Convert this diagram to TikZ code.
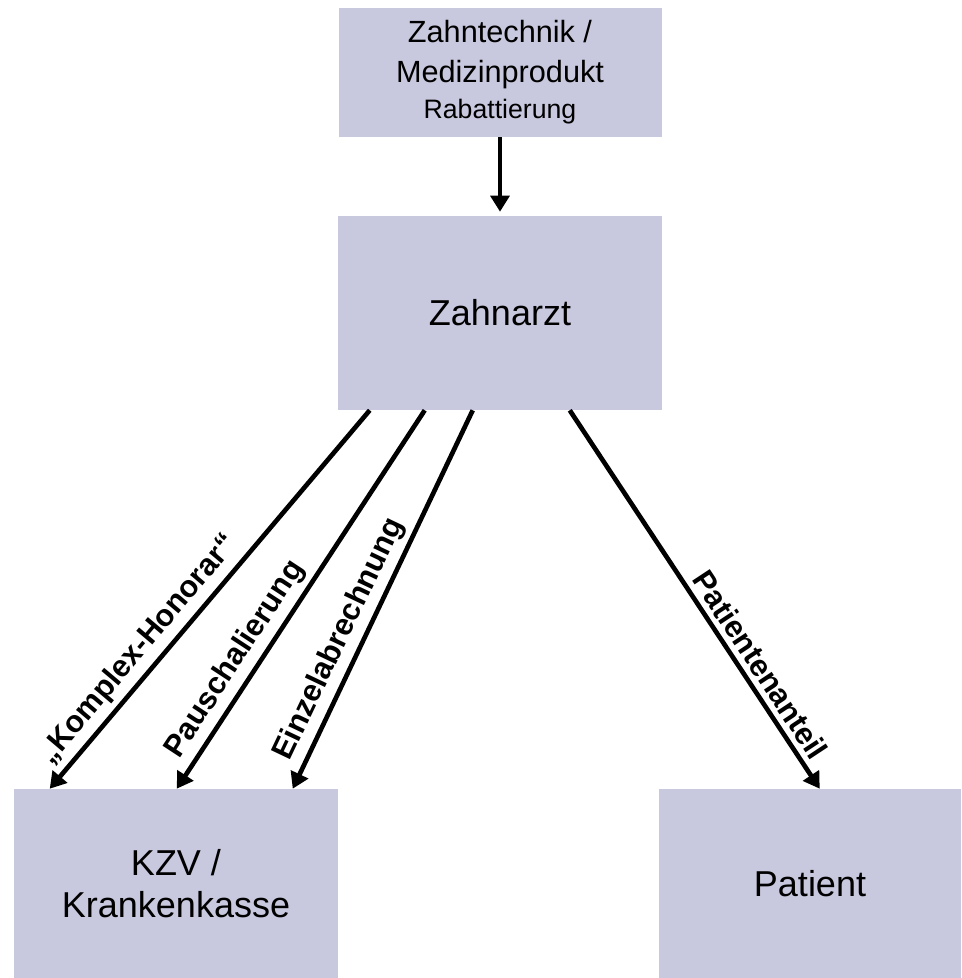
\documentclass[tikz,border=0pt]{standalone}
\usepackage{fontspec}
\setmainfont{Liberation Sans}
\usetikzlibrary{arrows.meta}
\definecolor{boxfill}{RGB}{200,200,222}

\begin{document}
\begin{tikzpicture}[x=0.75pt,y=-0.75pt]
	\tikzstyle{box}=[fill=boxfill,inner sep=0pt,align=center,font=\fontsize{27}{32}\selectfont]
	\tikzstyle{flow}=[line width=3.5pt,-{Triangle[length=12pt,width=14pt]}]
	\tikzstyle{lbl}=[font=\fontsize{23}{27}\selectfont\bfseries,sloped,above,inner sep=4pt]

	\useasboundingbox (0,0) rectangle (961,978);

	\node (tech) at (500,72.5) [box,font=\fontsize{23}{30}\selectfont,minimum width=242.25pt,minimum height=96.75pt] {Zahntechnik /\\Medizinprodukt\\[-3pt]{\fontsize{20}{25}\selectfont Rabattierung}};
	\node (zahnarzt) at (500,313) [box,minimum width=243pt,minimum height=145.5pt] {Zahnarzt};
	\node (kzv) at (176,883.5) [box,minimum width=243pt,minimum height=141.75pt] {KZV /\\Krankenkasse};
	\node (patient) at (810,883.5) [box,minimum width=226.5pt,minimum height=141.75pt] {Patient};

	\path [flow] (tech.south) edge[shorten >=3pt] (zahnarzt.north);

	\path [flow] ([xshift=24pt]zahnarzt.south west) edge node[lbl,pos=0.67] {„Komplex-Honorar“} ([xshift=27pt]kzv.north west);
	\path [flow] ([xshift=65.25pt]zahnarzt.south west) edge node[lbl,pos=0.69] {Pauschalierung} ([xshift=122.25pt]kzv.north west);
	\path [flow] ([xshift=101.25pt]zahnarzt.south west) edge node[lbl,pos=0.63] {Einzelabrechnung} ([xshift=209.25pt]kzv.north west);
	\path [flow] ([xshift=174pt]zahnarzt.south west) edge node[lbl,pos=0.70] {Patientenanteil} ([xshift=120.75pt]patient.north west);
\end{tikzpicture}
\end{document}
